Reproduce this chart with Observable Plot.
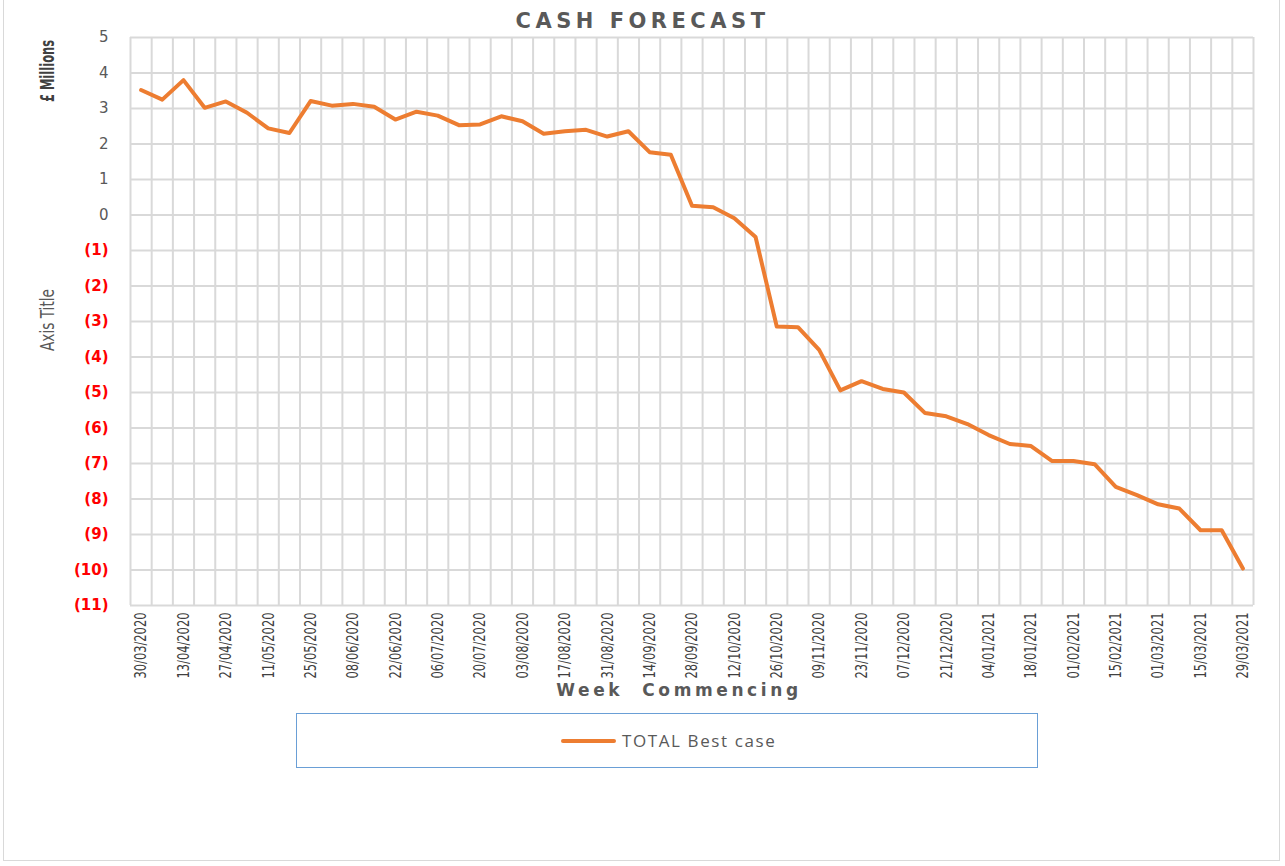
<!DOCTYPE html>
<html>
<head>
<meta charset="utf-8">
<script src="https://cdn.jsdelivr.net/npm/d3@7"></script>
<script src="https://cdn.jsdelivr.net/npm/@observablehq/plot@0.6"></script>
<style>
  html, body { margin: 0; padding: 0; background: #fff; }
  #wrap { position: relative; width: 1285px; height: 866px; overflow: hidden; }
  #frame { position: absolute; left: 3px; top: -2px; width: 1277px; height: 863px; border: 1.5px solid #d9d9d9; box-sizing: border-box; }
  #chart { position: absolute; left: 0; top: 0; }
  .title { position: absolute; left: 0; width: 1285px; top: 9px; text-align: center; font: bold 21px "DejaVu Sans", sans-serif; letter-spacing: 4.5px; color: #595959; }
  .xtitle { position: absolute; left: 79px; width: 1200px; top: 680px; text-align: center; font: bold 17px "DejaVu Sans", sans-serif; letter-spacing: 3.6px; color: #595959; }
  .ytitle { position: absolute; white-space: nowrap; color: #404040; font-family: "DejaVu Sans Condensed", "DejaVu Sans", sans-serif; }
  #legend { position: absolute; left: 296px; top: 713px; width: 742px; height: 55px; border: 1.5px solid #6a9fd6; box-sizing: border-box; }
  #legend .sw { position: absolute; left: 264px; top: 25px; width: 55px; height: 4px; background: #ED7D31; border-radius: 2px; }
  #legend .lt { position: absolute; left: 325px; top: 15px; font: 17px "Open Sans", sans-serif; letter-spacing: 1.6px; color: #595959; white-space: nowrap; }
</style>
</head>
<body>
<div id="wrap">
  <div id="frame"></div>
  <div id="chart"></div>
  <div class="title">CASH FORECAST</div>
  <div class="xtitle">Week&nbsp; Commencing</div>
  <div class="ytitle" style="left:47px; top:71px; font-size:16px; font-weight:bold; transform: translate(-50%, -50%) rotate(-90deg) scale(0.8, 1.2);">£ Millions</div>
  <div class="ytitle" style="left:47px; top:320px; font-size:16px; color:#595959; transform: translate(-50%, -50%) rotate(-90deg) scale(0.95, 1.2);">Axis Title</div>
  <div id="legend"><div class="sw"></div><div class="lt">TOTAL Best case</div></div>
</div>
<script>
// Week commencing dates (categories)
const weeks = [
  "30/03/2020","06/04/2020","13/04/2020","20/04/2020","27/04/2020","04/05/2020","11/05/2020","18/05/2020",
  "25/05/2020","01/06/2020","08/06/2020","15/06/2020","22/06/2020","29/06/2020","06/07/2020","13/07/2020",
  "20/07/2020","27/07/2020","03/08/2020","10/08/2020","17/08/2020","24/08/2020","31/08/2020","07/09/2020",
  "14/09/2020","21/09/2020","28/09/2020","05/10/2020","12/10/2020","19/10/2020","26/10/2020","02/11/2020",
  "09/11/2020","16/11/2020","23/11/2020","30/11/2020","07/12/2020","14/12/2020","21/12/2020","28/12/2020",
  "04/01/2021","11/01/2021","18/01/2021","25/01/2021","01/02/2021","08/02/2021","15/02/2021","22/02/2021",
  "01/03/2021","08/03/2021","15/03/2021","22/03/2021","29/03/2021"
];
// TOTAL Best case (£ millions)
const totalBestCase = [
  3.52, 3.25, 3.80, 3.02, 3.20, 2.88, 2.44, 2.31,
  3.21, 3.08, 3.13, 3.05, 2.69, 2.91, 2.80, 2.53,
  2.55, 2.78, 2.64, 2.29, 2.36, 2.40, 2.21, 2.36,
  1.77, 1.70, 0.26, 0.22, -0.09, -0.62, -3.14, -3.16,
  -3.80, -4.94, -4.68, -4.90, -5.00, -5.58, -5.67, -5.89,
  -6.20, -6.45, -6.51, -6.93, -6.93, -7.02, -7.66, -7.89,
  -8.15, -8.27, -8.88, -8.88, -9.96
];
// Y tick values
const yTicks = [5, 4, 3, 2, 1, 0, -1, -2, -3, -4, -5, -6, -7, -8, -9, -10, -11];
const seriesName = "TOTAL Best case";

const data = weeks.map((w, i) => ({i, week: w, value: totalBestCase[i]}));
const labelIdx = weeks.map((w, i) => i).filter(i => i % 2 === 0);
const boundaries = d3.range(weeks.length + 1);
const fmt = d => d < 0 ? `(${-d})` : `${d}`;

const chart = Plot.plot({
  width: 1285,
  height: 690,
  marginLeft: 130,
  marginRight: 32,
  marginTop: 37,
  marginBottom: 85,
  x: {type: "linear", domain: [-0.5, weeks.length - 0.5], axis: null},
  y: {domain: [-11, 5], axis: null},
  marks: [
    Plot.ruleY(yTicks, {stroke: "#d9d9d9", strokeWidth: 2}),
    Plot.ruleX(boundaries, {x: d => d - 0.5, stroke: "#d9d9d9", strokeWidth: 2}),
    Plot.axisX(labelIdx, {
      ticks: labelIdx, tickFormat: i => weeks[i], tickRotate: -90, tickSize: 0, tickPadding: 7,
      fontSize: 15, fill: "#404040", label: null,
      fontFamily: "DejaVu Sans Condensed, sans-serif"
    }),
    Plot.text(yTicks.filter(d => d >= 0), {frameAnchor: "left", y: d => d, text: fmt, dx: -22, textAnchor: "end",
      fill: "#595959", fontSize: 15, fontFamily: "DejaVu Sans, sans-serif"}),
    Plot.text(yTicks.filter(d => d < 0), {frameAnchor: "left", y: d => d, text: fmt, dx: -22, textAnchor: "end",
      fill: "#ff0000", fontSize: 15, fontWeight: "bold", fontFamily: "DejaVu Sans, sans-serif"}),
    Plot.line(data, {x: "i", y: "value", stroke: "#ED7D31", strokeWidth: 4, strokeLinejoin: "round", strokeLinecap: "round"})
  ]
});
// condense the rotated date labels (narrow font look)
chart.querySelectorAll('g[aria-label="x-axis tick label"] text').forEach(t => {
  const tr = t.getAttribute("transform") || "";
  t.setAttribute("transform", tr + " scale(0.85, 1.1)");
});
document.getElementById("chart").appendChild(chart);
</script>
</body>
</html>
